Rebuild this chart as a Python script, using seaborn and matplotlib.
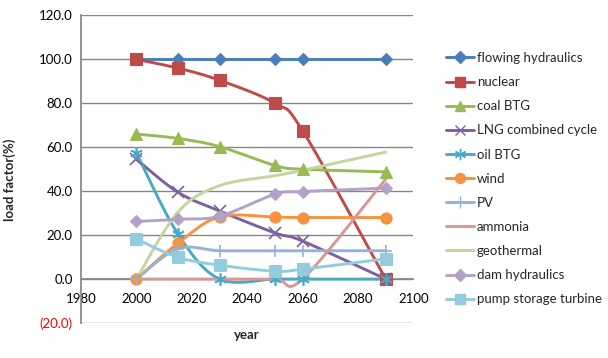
import numpy as np
import pandas as pd
import matplotlib
matplotlib.use("Agg")
import matplotlib.pyplot as plt
from matplotlib.lines import Line2D
from matplotlib.ticker import FuncFormatter
import seaborn as sns

years = [2000, 2015, 2030, 2050, 2060, 2090]
flowing_hydraulics = [100, 100, 100, 100, 100, 100]
nuclear = [100, 96, 90.5, 80, 67.5, 0]
coal_btg = [66, 64, 60.3, 51.7, 50, 48.8]
lng_combined = [54.5, 39.5, 31, 21, 17.3, 0]
oil_btg = [57.3, 20.5, 0, 0, 0, 0]
wind = [0, 16.3, 28.3, 28.2, 28, 28]
pv = [0, 13.8, 12.9, 12.9, 12.9, 12.9]
ammonia = [0, 0, 0, 0, 0, 45.5]
geothermal = [0, 30.5, 42.5, 47, 49.5, 57.8]
dam_hydraulics = [26.2, 27.2, 28.6, 38.6, 39.8, 41.4]
pump_storage = [18.2, 9.9, 6.3, 3.6, 4.5, 9.2]

names = ["flowing hydraulics", "nuclear", "coal BTG", "LNG combined cycle", "oil BTG",
         "wind", "PV", "ammonia", "geothermal", "dam hydraulics", "pump storage turbine"]
series = [flowing_hydraulics, nuclear, coal_btg, lng_combined, oil_btg, wind, pv,
          ammonia, geothermal, dam_hydraulics, pump_storage]
colors = ["#4A7EBB", "#BE4B48", "#98B954", "#7D60A0", "#46AAC5", "#F69240",
          "#94B3D6", "#DA9694", "#C3D69B", "#B3A2C7", "#93CDDD"]
markers = ["D", "s", "^", "x", (6, 2, 0), "o", "+", None, None, "D", "s"]
msizes = [6.5, 8, 8, 8, 9, 8, 9, 0, 0, 6.5, 8]

sns.set_theme(style="white")
plt.rcParams["font.family"] = ["Lato", "DejaVu Sans"]

fig = plt.figure(figsize=(6.08, 3.58), dpi=100)
ax = fig.add_axes([81/608, 1-323/358, (413.4-81)/608, (323-15.4)/358])


def smooth(xs, ys, n=30):
    # Excel-style smoothed line (Catmull-Rom Bezier) for drawing only
    P = np.column_stack([xs, ys]).astype(float)
    out = [P[0]]
    m = len(P)
    for i in range(m - 1):
        p0 = P[i - 1] if i > 0 else P[i]
        p1, p2 = P[i], P[i + 1]
        p3 = P[i + 2] if i + 2 < m else P[i + 1]
        c1 = p1 + (p2 - p0) / 6.0
        c2 = p2 - (p3 - p1) / 6.0
        t = np.linspace(0, 1, n)[1:, None]
        b = ((1 - t) ** 3) * p1 + 3 * ((1 - t) ** 2) * t * c1 + 3 * (1 - t) * t ** 2 * c2 + t ** 3 * p2
        out.extend(b)
    out = np.array(out)
    return out[:, 0], out[:, 1]


handles = []
for name, vals, c, mk, ms in zip(names, series, colors, markers, msizes):
    sx, sy = smooth(years, vals)
    sns.lineplot(x=sx, y=sy, sort=False, estimator=None, color=c, lw=2.1, ax=ax,
                 clip_on=False, zorder=3)
    if mk is not None:
        df = pd.DataFrame({"year": years, "v": vals})
        thin = mk in ("x", "+") or isinstance(mk, tuple)
        mew = 1.2 if thin else 0.8
        ax.plot(df["year"], df["v"], linestyle="none", marker=mk, markersize=ms,
                color=c, markeredgecolor=c, markeredgewidth=mew, zorder=4, clip_on=False)
    handles.append(Line2D([0], [0], color=c, lw=2.1, marker=mk, markersize=ms * 0.9,
                          markeredgewidth=1.0))

ax.set_xlim(1980, 2100)
ax.set_ylim(-20, 120)
ax.set_xticks(np.arange(1980, 2101, 20))
ax.set_yticks(np.arange(-20, 121, 20))
ax.grid(axis="y", color="#868686", lw=1)
ax.grid(axis="x", visible=False)
ax.spines["top"].set_visible(False)
ax.spines["right"].set_visible(False)
ax.spines["left"].set_color("#868686")
ax.spines["bottom"].set_color("#868686")
ax.spines["bottom"].set_position(("data", 0))
ax.set_axisbelow(True)


def yfmt(v, pos):
    return f"({abs(v):.1f})" if v < 0 else f"{v:.1f}"


ax.yaxis.set_major_formatter(FuncFormatter(yfmt))
ax.tick_params(axis="both", labelsize=9.5, colors="#000000", length=0, pad=6)
ax.tick_params(axis="x", pad=10)
fig.canvas.draw()
for lbl in ax.get_yticklabels():
    if lbl.get_text().startswith("("):
        lbl.set_color("#FF0000")

fig.text((81 + 413) / 2 / 608, 1 - 335 / 358, "year", ha="center", va="center",
         fontsize=9.5, fontweight="bold")
fig.text(10 / 608, 1 - 180 / 358, "load factor(%)", ha="center", va="center",
         rotation=90, fontsize=9.5, fontweight="bold")

fig.legend(handles, names, loc="upper left", bbox_to_anchor=(446 / 608, 1 - 52 / 358),
           frameon=False, fontsize=9.5, handlelength=2.1, handletextpad=0.25,
           labelspacing=0.92, borderaxespad=0, borderpad=0)

fig.savefig("out.png", dpi=100)
